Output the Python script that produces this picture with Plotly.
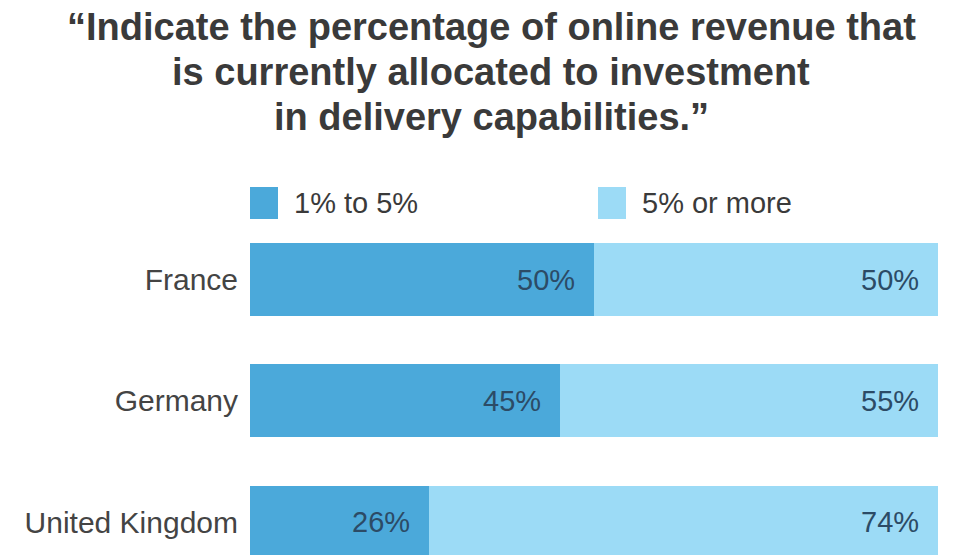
import plotly.graph_objects as go

# Survey responses: share of online revenue allocated to delivery capabilities
countries = ["France", "Germany", "United Kingdom"]
series_names = ["1% to 5%", "5% or more"]
low_share = [50, 45, 26]      # 1% to 5%
high_share = [50, 55, 74]     # 5% or more

title_lines = [
    "\u201cIndicate the percentage of online revenue that",
    "is currently allocated to investment",
    "in delivery capabilities.\u201d",
]

colors = ["#4ba9da", "#9cdbf6"]
label_color = "#2c4b66"
text_color = "#3a3a3a"
font_family = "Liberation Sans, Arial, sans-serif"

W, H = 980, 555
M_L, M_R, M_T, M_B = 250, 42, 219, 0
plot_w = W - M_L - M_R
plot_h = H - M_T - M_B


def px_x(px):
    return (px - M_L) / plot_w


def px_y(py):
    return (H - M_B - py) / plot_h


fig = go.Figure()
for name, vals, col in zip(series_names, [low_share, high_share], colors):
    fig.add_trace(go.Bar(
        y=countries, x=vals, name=name, orientation="h",
        marker=dict(color=col, line=dict(width=0)),
        width=0.6, showlegend=False, hoverinfo="skip",
    ))

annotations = []
# value labels at the inner right end of each segment
for i, c in enumerate(countries):
    cum = 0
    for vals in (low_share, high_share):
        cum += vals[i]
        annotations.append(dict(
            x=cum, y=c, xref="x", yref="y", text=f"{vals[i]}%",
            showarrow=False, xanchor="right", yanchor="middle", xshift=-17,
            font=dict(family=font_family, size=29, color=label_color),
        ))

# multi-line title
for line, cy in zip(title_lines, [27, 72, 117]):
    annotations.append(dict(
        x=px_x(491), y=px_y(cy), xref="paper", yref="paper", text=f"<b>{line}</b>",
        showarrow=False, xanchor="center", yanchor="middle",
        font=dict(family=font_family, size=38, color=text_color),
    ))

# legend: coloured squares with labels
shapes = []
for name, col, sx, tx in zip(series_names, colors, [250, 598], [292, 640]):
    shapes.append(dict(
        type="rect", xref="paper", yref="paper",
        x0=px_x(sx), x1=px_x(sx + 28), y0=px_y(219), y1=px_y(187),
        fillcolor=col, line=dict(width=0),
    ))
    annotations.append(dict(
        x=px_x(tx), y=px_y(203), xref="paper", yref="paper", text=name,
        showarrow=False, xanchor="left", yanchor="middle",
        font=dict(family=font_family, size=29, color=text_color),
    ))

fig.update_layout(
    width=W, height=H,
    margin=dict(l=M_L, r=M_R, t=M_T, b=M_B, pad=0),
    barmode="stack",
    paper_bgcolor="white", plot_bgcolor="white",
    annotations=annotations, shapes=shapes,
    xaxis=dict(range=[0, 100], visible=False, fixedrange=True),
    yaxis=dict(
        range=[2 + (H - 522) / 121.3, -0.5],
        showgrid=False, zeroline=False, showline=False, ticks="",
        ticklabelstandoff=11,
        tickfont=dict(family=font_family, size=30, color="#444444"),
    ),
    font=dict(family=font_family),
)

fig.write_html("out.html", config={"displayModeBar": False})
